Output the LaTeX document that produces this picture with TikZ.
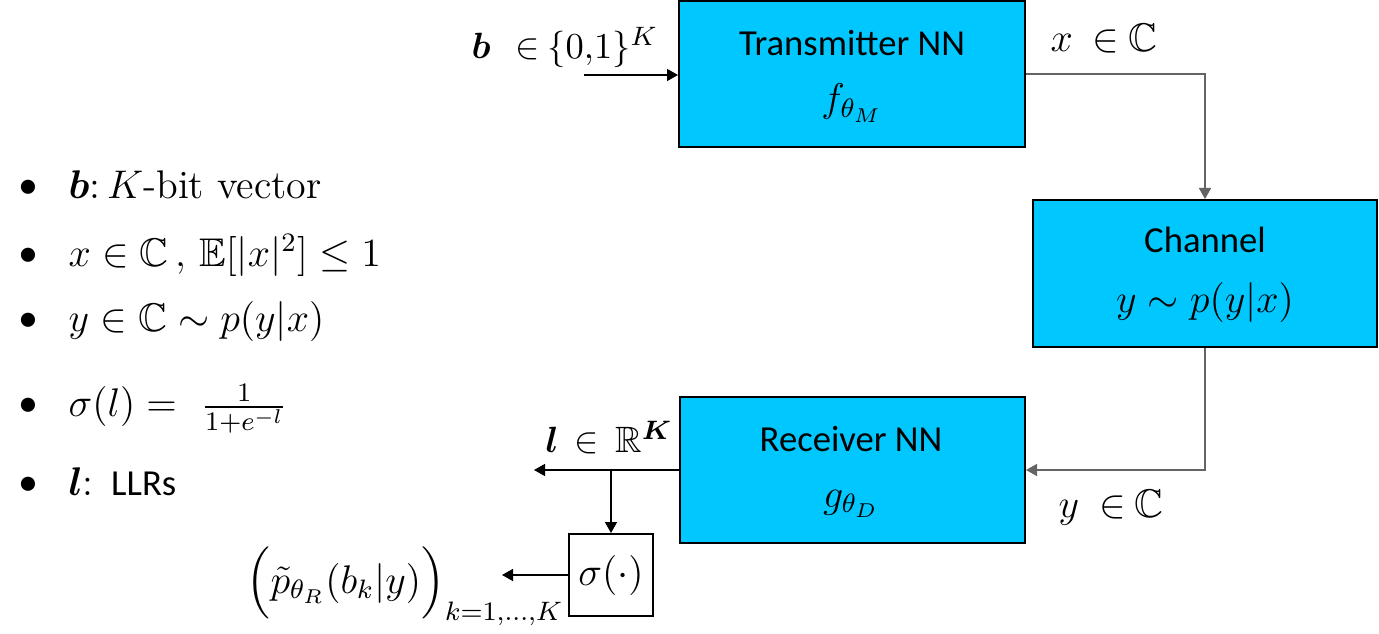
\documentclass[tikz,border=0pt]{standalone}
\usepackage{amsmath,amssymb,bm}
\usepackage{fontspec}
\newfontfamily\calibri{Carlito}
\usetikzlibrary{arrows.meta}
\definecolor{boxblue}{RGB}{0,200,255}
\definecolor{conngray}{RGB}{100,100,100}
\newcommand\mfont{\fontsize{12}{14.4}\selectfont}
\newcommand\msfont{\fontsize{11}{13.2}\selectfont}
\newcommand\cfont{\calibri\fontsize{11}{13.2}\selectfont}
\tikzset{
  box/.style={draw=black, line width=0.6pt, fill=boxblue, inner sep=0pt},
  sbox/.style={draw=black, line width=0.6pt, fill=white, inner sep=0pt, font=\mfont},
  mlbl/.style={inner sep=0pt, font=\mfont},
  slbl/.style={inner sep=0pt, font=\msfont},
  clbl/.style={inner sep=0pt, font=\cfont},
  bul/.style={inner sep=0pt, font=\calibri\fontsize{12}{14}\selectfont},
  tip/.style={-{Triangle[length=3.3pt,width=3.6pt]}},
  conn/.style={tip, line width=0.45pt, draw=black},
  gconn/.style={tip, line width=0.45pt, draw=conngray},
}
\begin{document}
\begin{tikzpicture}[x=0.3pt,y=-0.3pt]
\useasboundingbox (0,0) rectangle (1379,634);
% boxes
\node[box, minimum width=103.8pt, minimum height=43.8pt] (tx) at (852,74) {};
\node[box, minimum width=103.2pt, minimum height=44.1pt] (ch) at (1205,273.5) {};
\node[box, minimum width=103.5pt, minimum height=43.8pt] (rx) at (852.5,470) {};
\node[sbox, minimum width=25.2pt, minimum height=24.6pt] (sig) at (611,575) {$\sigma(\cdot)$};
% box texts
\node[clbl, anchor=base] (txt1) at (852,56) {Transmitter NN};
\node[mlbl, anchor=base] (txt2) at (852,112) {$f_{\theta_M}$};
\node[clbl, anchor=base] (cht1) at (1205,253) {Channel};
\node[mlbl, anchor=base] (cht2) at (1205,313) {$y\sim p(y|x)$};
\node[clbl, anchor=base] (rxt1) at (851,451) {Receiver NN};
\node[mlbl, anchor=base] (rxt2) at (851,507) {$g_{\theta_D}$};
% connector labels
\node[slbl, anchor=base west] (blab) at (471,59) {$\boldsymbol{b}\mkern12mu{\in}\mkern4mu\{0{,}1\}^{K}$};
\node[mlbl, anchor=base west] (xlab) at (1050,52) {$x\mkern9mu{\in}\mkern4mu\mathbb{C}$};
\node[mlbl, anchor=base west] (ylab) at (1058,517) {$y\mkern9mu{\in}\mkern4mu\mathbb{C}$};
\node[slbl, anchor=base west] (llab) at (545,453) {$\boldsymbol{l}\mkern8mu{\in}\mkern8mu\mathbb{R}^{\boldsymbol{K}}$};
\node[mlbl, anchor=base west] (plab) at (246,593) {$\Bigl(\tilde{p}_{\theta_R}(b_k|y)\Bigr)_{k=1,\dots,K}$};
% connectors
\coordinate (bin) at (584,75);
\coordinate (lout) at (534,470);
\coordinate (pout) at (502,575);
\draw[conn] (bin) -- (tx.west |- bin);
\draw[gconn] (tx.east) -| (ch.north);
\draw[gconn] (ch.south) |- (rx.east);
\draw[conn] (rx.west) -- (lout);
\draw[conn] (sig.north |- rx.west) -- (sig.north);
\draw[conn] (sig.west) -- (pout);
% bullet list
\node[bul, anchor=base] (bu1) at (28,199) {\textbullet};
\node[bul, anchor=base] (bu2) at (28,266) {\textbullet};
\node[bul, anchor=base] (bu3) at (28,332) {\textbullet};
\node[bul, anchor=base] (bu4) at (28,417) {\textbullet};
\node[bul, anchor=base] (bu5) at (28,495) {\textbullet};
\node[mlbl, anchor=base west] (it1) at (68,199) {$\boldsymbol{b}$:\,$K$-bit vector};
\node[mlbl, anchor=base west] (it2) at (68,266) {$x\in\mathbb{C}$\,, $\mathbb{E}[|x|^2]\le 1$};
\node[mlbl, anchor=base west] (it3) at (68,332) {$y\in\mathbb{C}\sim p(y|x)$};
\node[mlbl, anchor=base west] (it4) at (68,417) {$\sigma(l) =\ \tfrac{1}{1+e^{-l}}$};
\node[mlbl, anchor=base west] (it5) at (68,495) {$\boldsymbol{l}$: {\cfont LLRs}};
\end{tikzpicture}
\end{document}
